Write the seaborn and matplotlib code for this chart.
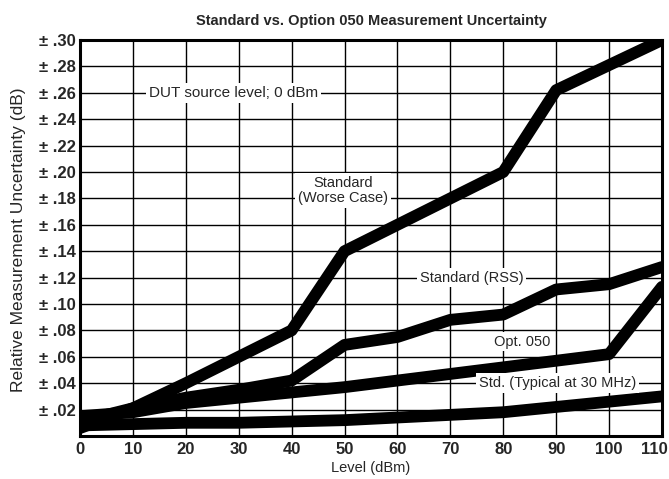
import matplotlib
matplotlib.use("Agg")
import matplotlib.pyplot as plt
from matplotlib.transforms import ScaledTranslation
import seaborn as sns
import pandas as pd

level = [0, 10, 20, 30, 40, 50, 60, 70, 80, 90, 100, 110]
std_worst = [0.006, 0.021, 0.040, 0.060, 0.080, 0.140, 0.160, 0.180, 0.200, 0.262, 0.281, 0.300]
std_rss = [0.011, 0.021, 0.029, 0.035, 0.042, 0.069, 0.075, 0.088, 0.092, 0.111, 0.115, 0.128]
opt050 = [0.015, 0.018, 0.025, 0.029, 0.033, 0.037, 0.042, 0.047, 0.052, 0.057, 0.062, 0.113]
std_typ = [0.008, 0.009, 0.010, 0.010, 0.011, 0.012, 0.014, 0.016, 0.018, 0.022, 0.026, 0.030]
series_names = ["Standard (Worse Case)", "Standard (RSS)", "Opt. 050", "Std. (Typical at 30 MHz)"]
yticks = [0.02, 0.04, 0.06, 0.08, 0.10, 0.12, 0.14, 0.16, 0.18, 0.20, 0.22, 0.24, 0.26, 0.28, 0.30]
xticks = [0, 10, 20, 30, 40, 50, 60, 70, 80, 90, 100, 110]

rows = []
for name, vals in zip(series_names, [std_worst, std_rss, opt050, std_typ]):
    for x, v in zip(level, vals):
        rows.append({"Level": x, "Unc": v, "Series": name})
df = pd.DataFrame(rows)

sns.set_style("white")
plt.rcParams['font.family'] = ['Liberation Sans', 'DejaVu Sans']

fig = plt.figure(figsize=(6.69, 4.79), dpi=100)
ax = fig.add_axes([0.1196, 0.0898, 0.8699, 0.8267])

sns.lineplot(data=df, x="Level", y="Unc", hue="Series", palette=["black"] * 4,
             linewidth=8.5, legend=False, ax=ax, zorder=3)

ax.set_xlim(0, 110)
ax.set_ylim(0, 0.30)
ax.set_xticks(xticks)
ax.set_xticklabels([str(t) for t in xticks], fontweight="bold", fontsize=12)
ax.set_yticks(yticks)
ax.set_yticklabels(["\u00b1 .%02d" % round(t * 100) for t in yticks], fontweight="bold", fontsize=12)
ax.tick_params(axis="both", length=0)
ax.tick_params(axis="x", pad=4)
ax.tick_params(axis="y", pad=3)
ax.grid(True, color="black", linewidth=1.0, zorder=0)
ax.set_axisbelow(True)
for s in ax.spines.values():
    s.set_visible(True)
    s.set_color("black")
    s.set_linewidth(2.2)

# keep the last x tick label inside the figure
last = ax.get_xticklabels()[-1]
last.set_ha("right")
last.set_transform(last.get_transform() + ScaledTranslation(6 / 100, 0, fig.dpi_scale_trans))

ax.set_xlabel("Level (dBm)", fontsize=10.5)
ax.xaxis.set_label_coords(0.5, -0.081)
ax.xaxis.label.set_va("center")
ax.set_ylabel("Relative Measurement Uncertainty (dB)", fontsize=12.5)
ax.yaxis.set_label_coords(-0.105, 0.495)
ax.yaxis.label.set_va("center")
ax.set_title("Standard vs. Option 050 Measurement Uncertainty", fontsize=10.5, fontweight="bold", pad=11)

box = dict(facecolor="white", edgecolor="none", pad=2)
fs = 10.5
ax.text(29.0, 0.26, "DUT source level; 0 dBm", ha="center", va="center", fontsize=11, bbox=box, zorder=4)
ax.text(49.7, 0.186, "Standard\n(Worse Case)", ha="center", va="center", fontsize=fs, bbox=box, zorder=4, linespacing=1.05)
ax.text(74.0, 0.12, "Standard (RSS)", ha="center", va="center", fontsize=fs, bbox=box, zorder=4)
ax.text(83.5, 0.0715, "Opt. 050", ha="center", va="center", fontsize=fs, bbox=box, zorder=4)
ax.text(90.3, 0.04, "Std. (Typical at 30 MHz)", ha="center", va="center", fontsize=fs, bbox=box, zorder=4)

fig.savefig("out.png", dpi=100)
